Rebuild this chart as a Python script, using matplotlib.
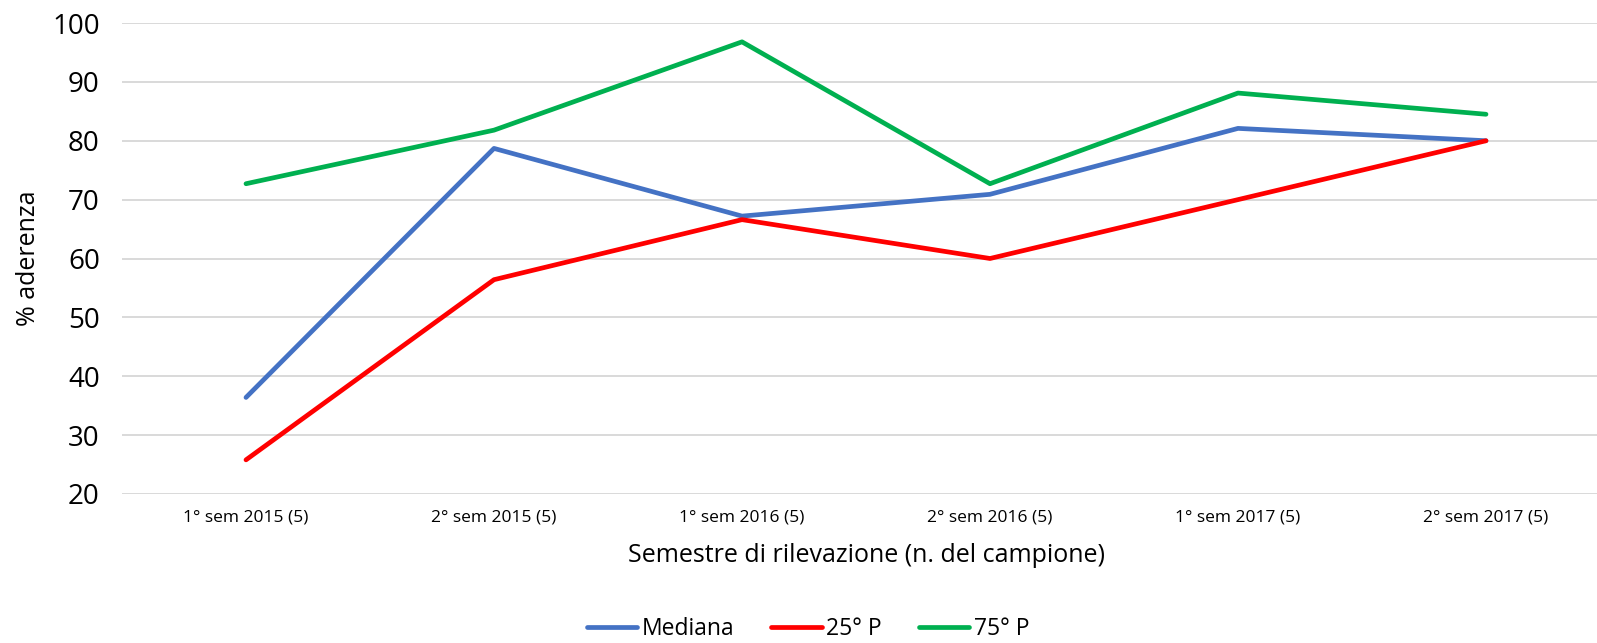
import matplotlib
matplotlib.use("Agg")
import matplotlib.pyplot as plt

categories = ["1° sem 2015 (5)", "2° sem 2015 (5)", "1° sem 2016 (5)",
              "2° sem 2016 (5)", "1° sem 2017 (5)", "2° sem 2017 (5)"]
mediana = [36.4, 78.7, 67.2, 70.9, 82.1, 80.0]
p25 = [25.8, 56.4, 66.6, 60.0, 70.0, 80.0]
p75 = [72.7, 81.8, 96.8, 72.7, 88.1, 84.5]
yticks = [20, 30, 40, 50, 60, 70, 80, 90, 100]

plt.rcParams['font.family'] = ['Open Sans', 'DejaVu Sans']

W, H = 1597, 643
fig = plt.figure(figsize=(W / 100, H / 100), dpi=100)
left, right = 122 / W, 1.0
bottom, top = 1 - 494 / H, 1 - 23 / H
ax = fig.add_axes([left, bottom, right - left, top - bottom])

x = list(range(len(categories)))
kw = dict(lw=3.4, solid_capstyle="round", solid_joinstyle="round")
ax.plot(x, mediana, color="#4472C4", label="Mediana", **kw)
ax.plot(x, p25, color="#FF0000", label="25° P", **kw)
ax.plot(x, p75, color="#00B050", label="75° P", **kw)

ax.set_xlim(-0.5, (W - 246) / 248)
ax.set_ylim(20, 100)
ax.set_yticks(yticks)
ax.set_xticks(x)
ax.set_xticklabels(categories, fontsize=12.5)
ax.tick_params(axis='y', labelsize=20, length=0, pad=16, colors="#000000")
ax.tick_params(axis='x', length=0, pad=11)
ax.grid(axis='y', color="#D9D9D9", lw=1.4)
ax.set_axisbelow(True)
for s in ax.spines.values():
    s.set_visible(False)

ax.set_xlabel("Semestre di rilevazione (n. del campione)", fontsize=18)
ax.set_ylabel("% aderenza", fontsize=18)
ax.yaxis.label.set_va("center")
ax.yaxis.set_label_coords(-(122 - 28) / (W * (right - left)), 0.5)
ax.xaxis.label.set_va("center")
ax.xaxis.set_label_coords((866 - 122) / (W - 122), -(555 - 494) / (494 - 23))

fig.legend(loc="center", bbox_to_anchor=(808 / W, 1 - 629 / H), ncol=3, frameon=False,
           fontsize=16.5, handlelength=2.2, handletextpad=0.2, columnspacing=1.6,
           borderaxespad=0)

fig.savefig("out.png", dpi=100)
